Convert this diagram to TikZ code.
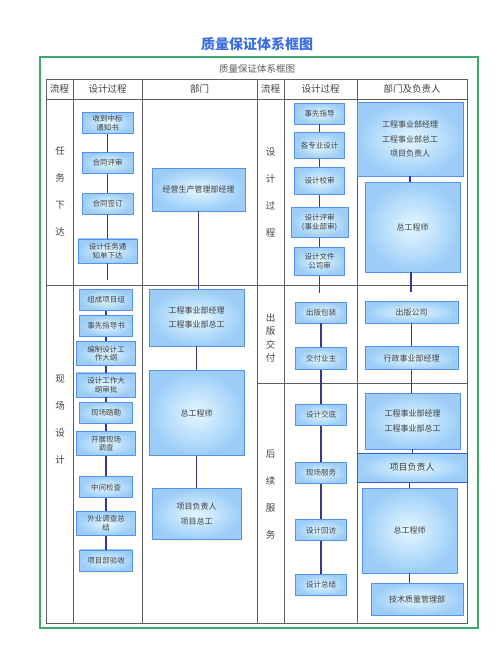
\documentclass[tikz,border=0pt]{standalone}
\usepackage{fontspec}
\setmainfont{Noto Sans CJK SC}
\usepackage{tikz}
\usetikzlibrary{positioning}
\definecolor{TitleBlue}{RGB}{58,110,225}
\definecolor{FrameGreen}{RGB}{60,170,110}
\definecolor{BoxEdge}{RGB}{85,145,240}
\definecolor{BoxEdgeDark}{RGB}{50,95,220}
\definecolor{BoxIn}{RGB}{228,247,255}
\definecolor{BoxOut}{RGB}{155,205,248}
\definecolor{LinkBlue}{RGB}{55,55,150}
\definecolor{GridGray}{RGB}{95,95,95}
\definecolor{InkGray}{RGB}{65,65,65}

\begin{document}
\begin{tikzpicture}[
  x=1pt, y=-1pt,
  % boites
  box/.style={rectangle, draw=BoxEdge, line width=0.8pt, inner color=BoxIn, outer color=BoxOut, align=center, text=InkGray, inner sep=1pt},
  dsg/.style={box, minimum width=53pt, minimum height=21pt, font=\fontsize{7.5}{8.5}\selectfont},
  dsgw/.style={dsg, minimum width=59pt, minimum height=24pt},
  dept/.style={box, font=\fontsize{8}{14.5}\selectfont},
  link/.style={draw=LinkBlue, line width=1.2pt},
  tbl/.style={draw=GridGray, line width=0.8pt},
  head/.style={font=\fontsize{9.5}{11}\selectfont, text=InkGray},
  vlabel/.style={align=center, text=InkGray, font=\fontsize{9.5}{27}\selectfont}
]
\useasboundingbox (0,0) rectangle (503,656);
\fill[white] (0,0) rectangle (503,656);

% Titre et cadre
\node[font=\fontsize{14}{16}\selectfont\bfseries, text=TitleBlue] (title) at (257,44) {质量保证体系框图};
\draw[draw=FrameGreen, line width=2pt] (40,57) rectangle (478,628);
\node[head, text=GridGray] (subtitle) at (257,69) {质量保证体系框图};

% Tableau
\draw[tbl] (46,79) rectangle (467,623);
\draw[tbl] (46,99) -- (467,99);
\draw[tbl] (46,285) -- (467,285);
\draw[tbl] (257,383) -- (467,383);
\foreach \cx in {73,142,257,284,357}
  \draw[tbl] (\cx,79) -- (\cx,623);

% En-tetes
\node[head] (hflowA) at (59.5,89) {流程};
\node[head] (hdesignA) at (107.5,89) {设计过程};
\node[head] (hdeptA) at (199.5,89) {部门};
\node[head] (hflowB) at (270.5,89) {流程};
\node[head] (hdesignB) at (320.5,89) {设计过程};
\node[head] (hdeptB) at (412,89) {部门及负责人};

% Etapes (colonne gauche)
\node[vlabel] (lbltask) at (60,191) {任\\务\\下\\达};
\node[vlabel] (lblsite) at (60,420) {现\\场\\设\\计};

% Conception - partie 1
\node[dsg, minimum width=51pt] (recv) at (107.5,123) {收到中标\\通知书};
\node[dsg, minimum width=51pt, below=18pt of recv] (ctrev) {合同评审};
\node[dsg, minimum width=51pt, below=19pt of ctrev] (ctsign) {合同签订};
\node[dsgw, below=24pt of ctsign] (taskord) {设计任务通\\知单下达};
\coordinate (taskend) at (107.5,280);
\draw[link] (recv) -- (ctrev);
\draw[link] (ctrev) -- (ctsign);
\draw[link] (ctsign) -- (taskord);
\draw[link] (taskord) -- (taskend);

% Conception - partie 2
\node[dsg] (team) at (106,300) {组成项目组};
\node[dsg, below=4pt of team] (guide) {事先指导书};
\node[dsgw, below=4.5pt of guide] (outline) {编制设计工\\作大纲};
\node[dsgw, below=6.5pt of outline] (olapprove) {设计工作大\\纲审批};
\node[dsg, below=4.5pt of olapprove] (survey) {现场踏勘};
\node[dsgw, below=7.5pt of survey] (invest) {开展现场\\调查};
\node[dsg, below=20.5pt of invest] (midchk) {中间检查};
\node[dsgw, below=12.5pt of midchk] (fieldsum) {外业调查总\\结};
\node[dsg, below=14pt of fieldsum] (accept) {项目部验收};
\draw[link] (team) -- (guide);
\draw[link] (guide) -- (outline);
\draw[link] (outline) -- (olapprove);
\draw[link] (olapprove) -- (survey);
\draw[link] (survey) -- (invest);
\draw[link] (invest) -- (midchk);
\draw[link] (midchk) -- (fieldsum);
\draw[link] (fieldsum) -- (accept);

% Departements (colonne gauche)
\node[dept, minimum width=93pt, minimum height=43pt] (opmgr) at (198.5,189.5) {经营生产管理部经理};
\node[dept, minimum width=95pt, minimum height=57pt] (engmgr) at (196.5,317.5) {工程事业部经理\\工程事业部总工};
\node[dept, minimum width=95pt, minimum height=85pt, below=24pt of engmgr] (chiefA) {总工程师};
\node[dept, minimum width=89pt, minimum height=51pt, below=32pt of chiefA] (pmA) {项目负责人\\项目总工};
\draw[link] (opmgr) -- (opmgr |- engmgr.north);
\draw[link] (engmgr) -- (chiefA);
\draw[link] (chiefA) -- (pmA);

% Etapes (colonne droite)
\node[vlabel] (lbldesign) at (270.5,192) {设\\计\\过\\程};
\node[vlabel, font=\fontsize{9.5}{13.3}\selectfont] (lblpublish) at (270.5,338) {出\\版\\交\\付};
\node[vlabel] (lblafter) at (270.5,494) {后\\续\\服\\务};

% Processus de conception
\node[dsg, minimum width=50pt] (adv) at (319.5,113.5) {事先指导};
\node[dsg, minimum width=50pt, minimum height=26pt, below=8pt of adv] (spec) {各专业设计};
\node[dsg, minimum width=50pt, minimum height=27pt, below=8pt of spec] (check) {设计校审};
\node[dsg, minimum width=57pt, minimum height=30pt, below=12pt of check] (review) {设计评审\\(事业部审)};
\node[dsg, minimum width=50pt, minimum height=28pt, below=9pt of review] (docrev) {设计文件\\公司审};
\coordinate (docend) at (319.5,293);
\draw[link] (adv) -- (spec);
\draw[link] (spec) -- (check);
\draw[link] (check) -- (review);
\draw[link] (review) -- (docrev);
\draw[link] (docrev) -- (docend);

% Publication et services
\node[dsg, minimum width=51pt] (pack) at (321,312.5) {出版包装};
\node[dsg, minimum width=51pt, minimum height=22pt, below=24pt of pack] (deliver) {交付业主};
\node[dsg, minimum width=51pt, below=34pt of deliver] (brief) {设计交底};
\node[dsg, minimum width=51pt, below=36pt of brief] (onsite) {现场服务};
\node[dsg, minimum width=51pt, below=35.5pt of onsite] (revisit) {设计回访};
\node[dsg, minimum width=51pt, below=33pt of revisit] (summ) {设计总结};
\draw[link] (pack) -- (deliver);
\draw[link] (deliver) -- (brief);
\draw[link] (brief) -- (onsite);
\draw[link] (onsite) -- (revisit);
\draw[link] (revisit) -- (summ);

% Departements et responsables
\node[dept, minimum width=106pt, minimum height=74pt] (leadsB) at (410,139) {工程事业部经理\\工程事业部总工\\项目负责人};
\node[dept, minimum width=95pt, minimum height=90pt] (chiefB) at (412.5,227) {总工程师};
\coordinate (chiefBend) at (411,292);
\draw[link] (leadsB) -- (leadsB |- chiefB.north);
\draw[link] (chiefB.south -| chiefBend) -- (chiefBend);

\node[dept, minimum width=93pt, minimum height=22pt] (pubco) at (411.5,312) {出版公司};
\node[dept, minimum width=93pt, minimum height=23pt, below=23pt of pubco] (admin) {行政事业部经理};
\node[dept, minimum width=95pt, minimum height=56pt] (engmgrB) at (412.5,421) {工程事业部经理\\工程事业部总工};
\node[dept, draw=BoxEdgeDark, line width=1pt, minimum width=110pt, minimum height=29pt, font=\fontsize{9}{11}\selectfont] (pmB) at (412,467.5) {项目负责人};
\node[dept, minimum width=95pt, minimum height=85pt] (chiefC) at (409.5,530.5) {总工程师};
\node[dept, minimum width=92pt, minimum height=32pt] (techqa) at (417,599) {技术质量管理部};
\draw[link] (pubco) -- (admin);
\draw[link] (admin) -- (admin |- engmgrB.north);
\draw[link] (engmgrB) -- (engmgrB |- pmB.north);
\draw[link] (pmB.south -| chiefC) -- (chiefC);
\draw[link] (chiefC) -- (chiefC |- techqa.north);

\end{tikzpicture}
\end{document}
